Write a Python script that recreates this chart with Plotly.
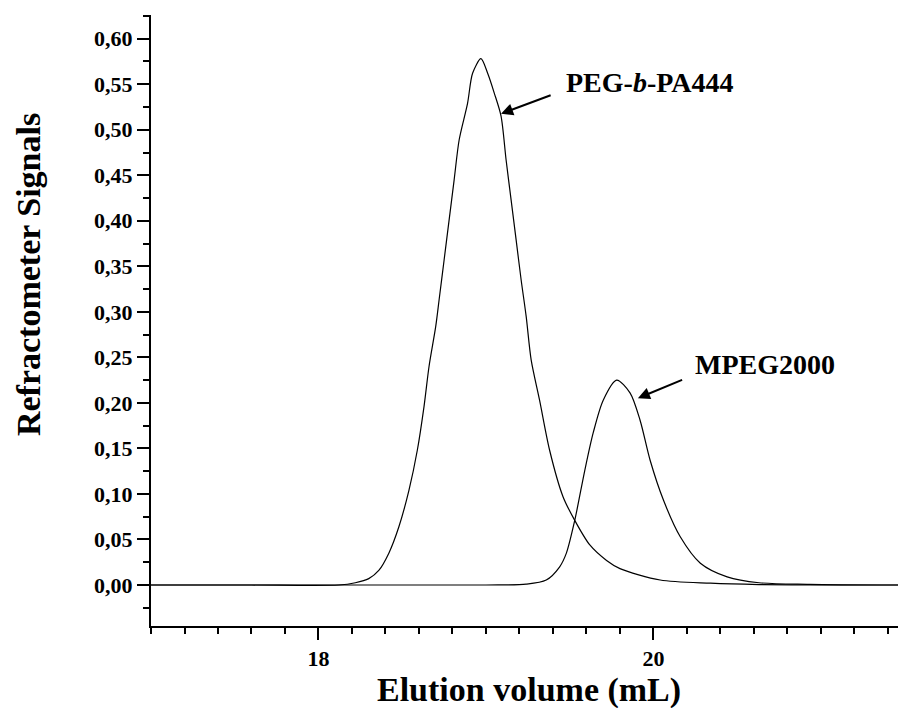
import plotly.graph_objects as go

# PEG-b-PA444 trace
peg_pa_x = [17.0, 17.6, 18.12, 18.22, 18.30, 18.36, 18.42, 18.48, 18.54, 18.59, 18.63, 18.66,
            18.70, 18.72, 18.75, 18.78, 18.81, 18.84, 18.89, 18.92, 18.97, 19.01, 19.05, 19.09,
            19.12, 19.15, 19.18, 19.21, 19.24, 19.27, 19.32, 19.38, 19.46, 19.53, 19.62, 19.72,
            19.80, 20.04, 20.34, 20.63, 21.0, 21.46]
peg_pa_y = [0, 0, 0, 0.0025, 0.007, 0.016, 0.035, 0.064, 0.104, 0.148, 0.196, 0.240,
            0.284, 0.313, 0.357, 0.401, 0.445, 0.489, 0.529, 0.562, 0.578, 0.562, 0.540, 0.515,
            0.467, 0.423, 0.379, 0.335, 0.295, 0.247, 0.203, 0.148, 0.097, 0.071, 0.044, 0.027,
            0.018, 0.0055, 0.002, 0.0005, 0, 0]

# MPEG2000 trace
mpeg_x = [17.0, 19.0, 19.24, 19.36, 19.44, 19.48, 19.53, 19.59, 19.64, 19.70, 19.78, 19.86,
          19.92, 19.98, 20.06, 20.16, 20.28, 20.44, 20.63, 20.93, 21.46]
mpeg_y = [0, 0, 0.001, 0.0055, 0.020, 0.035, 0.071, 0.126, 0.167, 0.203, 0.225, 0.211,
          0.181, 0.137, 0.093, 0.053, 0.024, 0.009, 0.0025, 0.0008, 0]

y_ticks = [0.00, 0.05, 0.10, 0.15, 0.20, 0.25, 0.30, 0.35, 0.40, 0.45, 0.50, 0.55, 0.60]
x_ticks = [18, 20]

FONT = "Liberation Serif"

fig = go.Figure()
fig.add_trace(go.Scatter(x=peg_pa_x, y=peg_pa_y, mode="lines", name="PEG-b-PA444",
                         line=dict(color="black", width=1.2, shape="spline", smoothing=0.8)))
fig.add_trace(go.Scatter(x=mpeg_x, y=mpeg_y, mode="lines", name="MPEG2000",
                         line=dict(color="black", width=1.2, shape="spline", smoothing=0.8)))

# arrows
fig.add_annotation(x=19.09, y=0.5176, ax=19.395, ay=0.5385, axref="x", ayref="y",
                   xref="x", yref="y", text="", showarrow=True, arrowhead=2,
                   arrowsize=1.2, arrowwidth=2, arrowcolor="black")
fig.add_annotation(x=19.907, y=0.2052, ax=20.18, ay=0.226, axref="x", ayref="y",
                   xref="x", yref="y", text="", showarrow=True, arrowhead=2,
                   arrowsize=1.2, arrowwidth=2, arrowcolor="black")
fig.add_annotation(x=19.468, y=0.5516, xref="x", yref="y", xanchor="left", yanchor="middle",
                   text="<b>PEG-<i>b</i>-PA444</b>", showarrow=False,
                   font=dict(family=FONT, size=28, color="black"))
fig.add_annotation(x=20.235, y=0.2418, xref="x", yref="y", xanchor="left", yanchor="middle",
                   text="<b>MPEG2000</b>", showarrow=False,
                   font=dict(family=FONT, size=28, color="black"))

# axis titles
fig.add_annotation(x=0.5054, y=-0.1047, xref="paper", yref="paper",
                   text="<b>Elution volume (mL)</b>", showarrow=False,
                   xanchor="center", yanchor="middle",
                   font=dict(family=FONT, size=34, color="black"))
fig.add_annotation(x=-0.1647, y=0.576, xref="paper", yref="paper",
                   text="<b>Refractometer Signals</b>", showarrow=False, textangle=-90,
                   xanchor="center", yanchor="middle",
                   font=dict(family=FONT, size=34, color="black"))

fig.update_layout(
    width=898, height=708,
    margin=dict(l=151, r=0, t=15, b=82, autoexpand=False),
    plot_bgcolor="white", paper_bgcolor="white",
    showlegend=False,
    separators=",.",
    font=dict(family=FONT, color="black"),
)
fig.update_xaxes(
    range=[17.0, 21.46], showgrid=False, zeroline=False, automargin=False,
    showline=True, linecolor="black", linewidth=2,
    tickmode="array", tickvals=x_ticks,
    ticks="outside", ticklen=12, tickwidth=2, tickcolor="black",
    tickfont=dict(family=FONT, size=22, color="black", weight="bold"),
    minor=dict(dtick=0.2, tick0=17.0, ticks="outside", ticklen=6, tickwidth=2, tickcolor="black", showgrid=False),
)
fig.update_yaxes(
    range=[-0.045, 0.626], showgrid=False, zeroline=False, automargin=False,
    showline=True, linecolor="black", linewidth=2,
    tickmode="array", tickvals=y_ticks, tickformat=".2f",
    ticks="outside", ticklen=12, tickwidth=2, tickcolor="black",
    tickfont=dict(family=FONT, size=22, color="black", weight="bold"),
    minor=dict(dtick=0.025, tick0=0, ticks="outside", ticklen=6, tickwidth=2, tickcolor="black", showgrid=False),
)

fig.write_html("out.html", config={"displayModeBar": False},
               post_script="document.body.style.margin='0';document.body.style.overflow='hidden';")
